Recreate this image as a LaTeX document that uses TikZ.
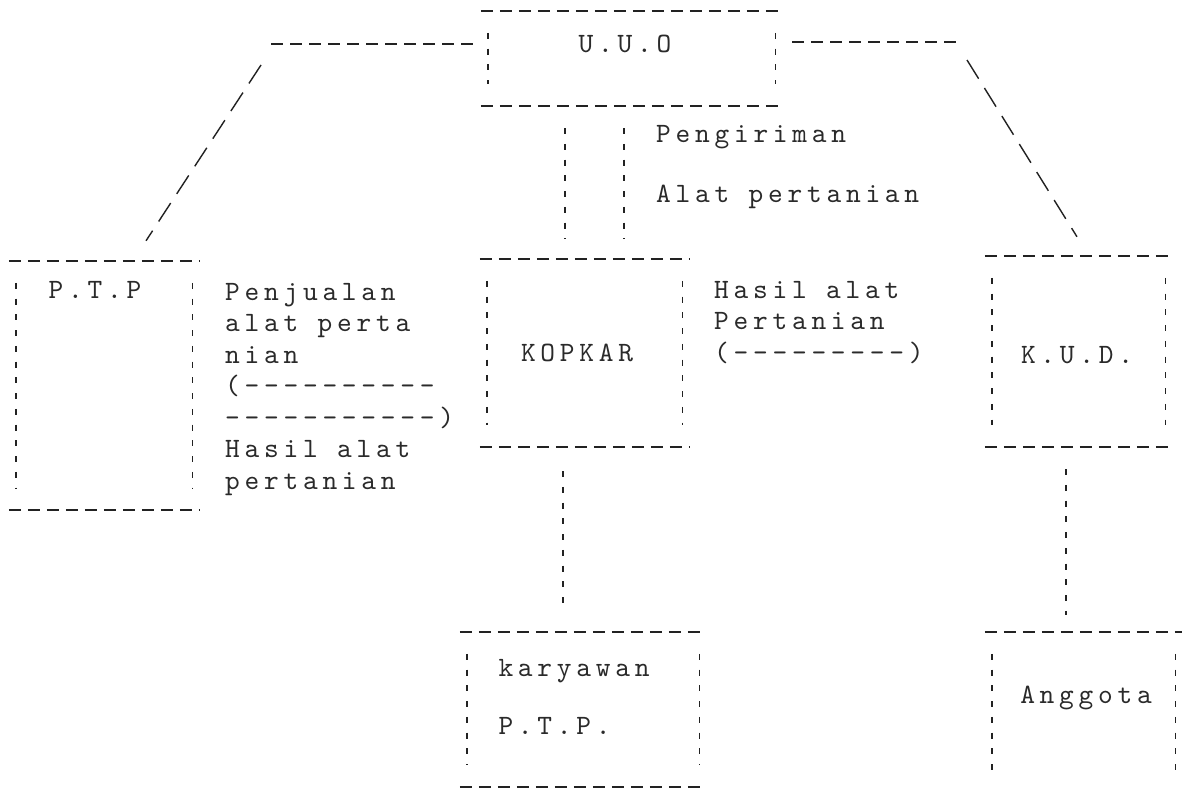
\documentclass[tikz,border=0pt]{standalone}
\usepackage{fontspec}
\newfontfamily\typewriter{lmmono10-regular}[Extension=.otf, LetterSpace=17]
\definecolor{ribbonink}{HTML}{222222}
\definecolor{ribbontext}{HTML}{2A2A2A}
\newcommand{\typed}{\typewriter\fontsize{28}{31.5}\selectfont}

\begin{document}
\begin{tikzpicture}[
  x=1pt,
  y=-1pt,
  every node/.style={font=\typed, ribbontext, inner sep=0pt},
  hdash/.style={ribbonink, line width=1.5pt, dash pattern=on 12pt off 7pt},
  vdash/.style={ribbonink, line width=1.4pt, dash pattern=on 6pt off 9.75pt},
  sdash/.style={ribbonink, line width=1.4pt, dash pattern=on 22pt off 11pt},
  tbox/.style 2 args={
    minimum width=#1, minimum height=#2,
    append after command={
      (\tikzlastnode.north west) edge[hdash] (\tikzlastnode.north east)
      (\tikzlastnode.south west) edge[hdash] (\tikzlastnode.south east)
      ([xshift=7pt,yshift=-22pt]\tikzlastnode.north west)
        edge[vdash] ([xshift=7pt,yshift=22pt]\tikzlastnode.south west)
      ([xshift=-7pt,yshift=-22pt]\tikzlastnode.north east)
        edge[vdash] ([xshift=-7pt,yshift=22pt]\tikzlastnode.south east)
    }
  },
  txt/.style={align=left}
]
  \fill[white] (0,0) rectangle (1184,790);
  \useasboundingbox (0,0) rectangle (1184,790);

  % ================= the boxes ==========================================
  \node[tbox={301pt}{95pt},
        label={[name=uuotext, shift={(-6.5pt,14.5pt)}]center:U.U.O}]
    (uuo) at (631.5,58.5) {};
  \node[tbox={190pt}{249pt},
        label={[name=ptptext, shift={(-9pt,95.5pt)}]center:P.T.P}]
    (ptp) at (104,385.5) {};
  \node[tbox={209pt}{188pt},
        label={[name=kopkartext, shift={(-7.5pt,0pt)}]center:KOPKAR}]
    (kopkar) at (584.5,353) {};
  \node[tbox={187pt}{191pt},
        label={[name=kudtext, shift={(-1.5pt,-3.5pt)}]center:K.U.D.}]
    (kud) at (1078.5,351.5) {};
  \node[tbox={246pt}{155pt},
        label={[name=karyawantext, txt, shift={(-9pt,12.5pt)}]center:karyawan\\[26.5pt]P.T.P.}]
    (karyawan) at (583,709.5) {};
  % the bottom edge of this one runs off the sheet
  \node[tbox={197pt}{168pt},
        label={[name=anggotatext, shift={(2.5pt,18pt)}]center:Anggota}]
    (anggota) at (1083.5,716) {};

  % ================= the connectors =====================================
  \coordinate (ltop) at (264,44);
  \coordinate (lbend) at (261,65);
  \coordinate (rtop) at (960,42);
  \coordinate (rbend) at (967,60);

  \draw[hdash] ([xshift=-8pt,yshift=14.5pt]uuo.west) -- (ltop);
  \draw[sdash] (lbend) -- ([xshift=42pt,yshift=20pt]ptp.north);

  \draw[hdash] ([xshift=10pt,yshift=16.5pt]uuo.east) -- (rtop);
  \draw[sdash] (rbend) -- ([xshift=-1.5pt,yshift=19pt]kud.north);

  % two lines from U.U.O down to KOPKAR
  \draw[vdash] ([xshift=-66.5pt,yshift=-22pt]uuo.south)
    -- ([xshift=-19.5pt,yshift=20pt]kopkar.north);
  \draw[vdash] ([xshift=-7.5pt,yshift=-22pt]uuo.south)
    -- ([xshift=39.5pt,yshift=20pt]kopkar.north);

  \draw[vdash] ([xshift=-21.5pt,yshift=-24pt]kopkar.south)
    -- ([xshift=-20pt,yshift=20pt]karyawan.north);
  \draw[vdash] ([xshift=-12.5pt,yshift=-22pt]kud.south)
    -- ([xshift=-17.5pt,yshift=17pt]anggota.north);

  % ================= the flow texts =====================================
  % an aligned node sits on the baseline of its last line
  \node[txt, anchor=base west] (sendtext) at (656,142) {Pengiriman};
  \node[txt, anchor=base west] (tooltext) at (656,202) {Alat pertanian};

  \node[txt, anchor=base west] (salestext) at (225,489)
    {Penjualan\\alat perta\\nian\\(----------\\-----------)\\Hasil alat\\pertanian};
  \node[txt, anchor=base west] (yieldtext) at (714,361)
    {Hasil alat\\Pertanian\\(---------)};
\end{tikzpicture}
\end{document}
